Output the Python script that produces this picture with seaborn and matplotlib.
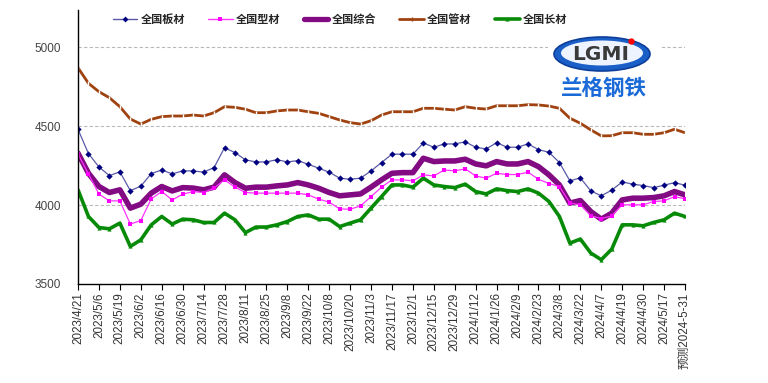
import numpy as np
import pandas as pd
import matplotlib
matplotlib.use("Agg")
import matplotlib.pyplot as plt
from matplotlib.lines import Line2D
from matplotlib.patches import Ellipse
import seaborn as sns

# ---- data ----
tick_labels = ["2023/4/21", "2023/5/6", "2023/5/19", "2023/6/2", "2023/6/16", "2023/6/30",
               "2023/7/14", "2023/7/28", "2023/8/11", "2023/8/25", "2023/9/8", "2023/9/22",
               "2023/10/8", "2023/10/20", "2023/11/3", "2023/11/17", "2023/12/1", "2023/12/15",
               "2023/12/29", "2024/1/12", "2024/1/26", "2024/2/9", "2024/2/23", "2024/3/8",
               "2024/3/22", "2024/4/7", "2024/4/19", "2024/4/30", "2024/5/17", "预测2024-5-31"]

plate = [4480, 4327, 4242, 4187, 4211, 4092, 4120, 4200, 4223, 4198, 4217, 4217, 4209, 4238,
         4364, 4333, 4287, 4274, 4274, 4288, 4274, 4282, 4259, 4234, 4209, 4171, 4164, 4171,
         4217, 4270, 4323, 4323, 4323, 4394, 4367, 4388, 4388, 4401, 4367, 4356, 4396, 4367,
         4367, 4388, 4352, 4335, 4270, 4154, 4173, 4090, 4059, 4095, 4147, 4133, 4124, 4111,
         4126, 4143, 4126]
section = [4323, 4198, 4070, 4027, 4027, 3880, 3902, 4040, 4086, 4033, 4069, 4086, 4080, 4108,
           4160, 4114, 4080, 4076, 4076, 4076, 4076, 4076, 4065, 4038, 4019, 3976, 3974, 3995,
           4054, 4114, 4160, 4160, 4154, 4192, 4185, 4223, 4217, 4230, 4185, 4171, 4202, 4194,
           4194, 4209, 4164, 4137, 4118, 4013, 4002, 3932, 3915, 3932, 4002, 4002, 4002, 4023,
           4027, 4054, 4040]
composite = [4329, 4202, 4118, 4080, 4097, 3981, 4006, 4076, 4118, 4090, 4111, 4108, 4097, 4114,
             4192, 4143, 4107, 4114, 4114, 4122, 4128, 4143, 4128, 4107, 4080, 4059, 4065, 4071,
             4114, 4160, 4202, 4206, 4206, 4297, 4276, 4280, 4280, 4291, 4261, 4249, 4276, 4261,
             4261, 4276, 4244, 4192, 4128, 4013, 4029, 3959, 3911, 3949, 4033, 4044, 4044, 4048,
             4059, 4086, 4065]
pipe = [4871, 4772, 4719, 4681, 4624, 4546, 4514, 4544, 4561, 4565, 4565, 4571, 4565, 4586,
        4624, 4620, 4608, 4586, 4586, 4597, 4603, 4603, 4592, 4582, 4561, 4540, 4523, 4514,
        4535, 4571, 4592, 4592, 4592, 4614, 4614, 4608, 4603, 4624, 4614, 4609, 4630, 4630,
        4630, 4637, 4635, 4628, 4614, 4551, 4519, 4477, 4439, 4440, 4459, 4459, 4449, 4449,
        4459, 4481, 4459]
long_steel = [4097, 3928, 3858, 3850, 3886, 3738, 3780, 3875, 3928, 3880, 3911, 3907, 3890, 3890,
              3949, 3907, 3826, 3861, 3861, 3875, 3896, 3928, 3938, 3911, 3911, 3864, 3886, 3907,
              3981, 4054, 4128, 4128, 4114, 4171, 4128, 4118, 4111, 4133, 4086, 4071, 4103, 4092,
              4086, 4103, 4076, 4023, 3928, 3759, 3785, 3696, 3654, 3721, 3875, 3875, 3869, 3890,
              3907, 3949, 3928]

names = ["全国板材", "全国型材", "全国综合", "全国管材", "全国长材"]

df = pd.DataFrame({"idx": np.arange(len(plate)), names[0]: plate, names[1]: section,
                   names[2]: composite, names[3]: pipe, names[4]: long_steel})

# ---- style ----
sns.set_theme(style="white")
plt.rcParams["font.family"] = ["Liberation Sans", "Noto Sans CJK SC", "DejaVu Sans"]

fig = plt.figure(figsize=(7.68, 3.83), dpi=100)
ax = fig.add_axes([78 / 768, 1 - 284 / 383, (685 - 78) / 768, (284 - 10) / 383])

styles = {
    names[3]: dict(color="#a0420f", lw=2.0, marker="|", markersize=3, markeredgewidth=1.0),
    names[4]: dict(color="#078a07", lw=2.6, marker="^", markersize=3, markeredgewidth=0),
    names[2]: dict(color="#820a82", lw=4.0, marker=None),
    names[1]: dict(color="#ff33ff", lw=0.9, marker="s", markersize=3.5, markeredgewidth=0,
                   markerfacecolor="#ff00ff"),
    names[0]: dict(color="#5a5aa8", lw=0.9, marker="D", markersize=3.2, markeredgewidth=0,
                   markerfacecolor="#000080"),
}

for nm in [names[3], names[4], names[2], names[1], names[0]]:
    sns.lineplot(data=df, x="idx", y=nm, ax=ax, legend=False, **styles[nm])

ax.set_xlim(0, len(plate) - 1)
ax.set_ylim(3500, 5237)
ax.set_yticks([3500, 4000, 4500, 5000])
ax.set_yticklabels(["3500", "4000", "4500", "5000"])
for yv in [4000, 4500, 5000]:
    ax.axhline(yv, color="#b8b8b8", lw=0.8, ls=(0, (3, 2)), zorder=0)

ax.set_xticks(np.arange(0, len(plate), 2))
ax.set_xticklabels(tick_labels, rotation=90, fontsize=8.4, color="#333333")
ax.tick_params(axis="x", bottom=True, length=4, width=0.8, color="black", pad=2)
ax.tick_params(axis="y", left=False, labelsize=8.5, labelcolor="#444444", pad=6)
ax.set_xlabel("")
ax.set_ylabel("")
for side in ["top", "right"]:
    ax.spines[side].set_visible(False)
for side in ["left", "bottom"]:
    ax.spines[side].set_color("black")
    ax.spines[side].set_linewidth(1.0)

# ---- legend ----
handles = [
    Line2D([], [], color="#5a5aa8", lw=1, marker="D", markersize=3, markerfacecolor="#000080",
           markeredgewidth=0),
    Line2D([], [], color="#ff33ff", lw=1, marker="s", markersize=3.5, markerfacecolor="#ff00ff",
           markeredgewidth=0),
    Line2D([], [], color="#820a82", lw=3.8),
    Line2D([], [], color="#a0420f", lw=2.0, marker="|", markersize=3),
    Line2D([], [], color="#078a07", lw=2.6, marker="^", markersize=3, markeredgewidth=0),
]
fig.legend(handles, names, loc="center", bbox_to_anchor=(340 / 768, 1 - 19 / 383), ncol=5,
           frameon=False, handlelength=2.2, handletextpad=0.3, columnspacing=2.1,
           prop={"family": ["Noto Sans CJK SC"], "size": 8, "weight": "bold"})

# ---- logo ----
lax = fig.add_axes([548 / 768, 1 - 102 / 383, (660 - 548) / 768, (102 - 30) / 383])
lax.set_xlim(0, 112)
lax.set_ylim(0, 72)
lax.axis("off")
lax.add_patch(plt.Rectangle((0, 0), 112, 72, color="white", zorder=0))
lax.add_patch(Ellipse((54, 48), 96, 34, facecolor="#1a5fc8", edgecolor="#0d3e9a", lw=1.2, zorder=1))
lax.add_patch(Ellipse((54, 49), 82, 25, facecolor="#eef4ff", edgecolor="none", zorder=2))
lax.text(53, 48, "LGMI", ha="center", va="center", fontsize=14.5, fontweight="bold",
         color="#3a3a3a", family="DejaVu Sans", zorder=3)
lax.plot([83], [61], marker="o", color="red", markersize=3.5, zorder=4)
lax.text(56, 14, "兰格钢铁", ha="center", va="center", fontsize=15.5, fontweight="bold",
         color="#1a6ad8", family=["Noto Sans CJK SC"], zorder=3)

fig.savefig("out.png", dpi=100)
